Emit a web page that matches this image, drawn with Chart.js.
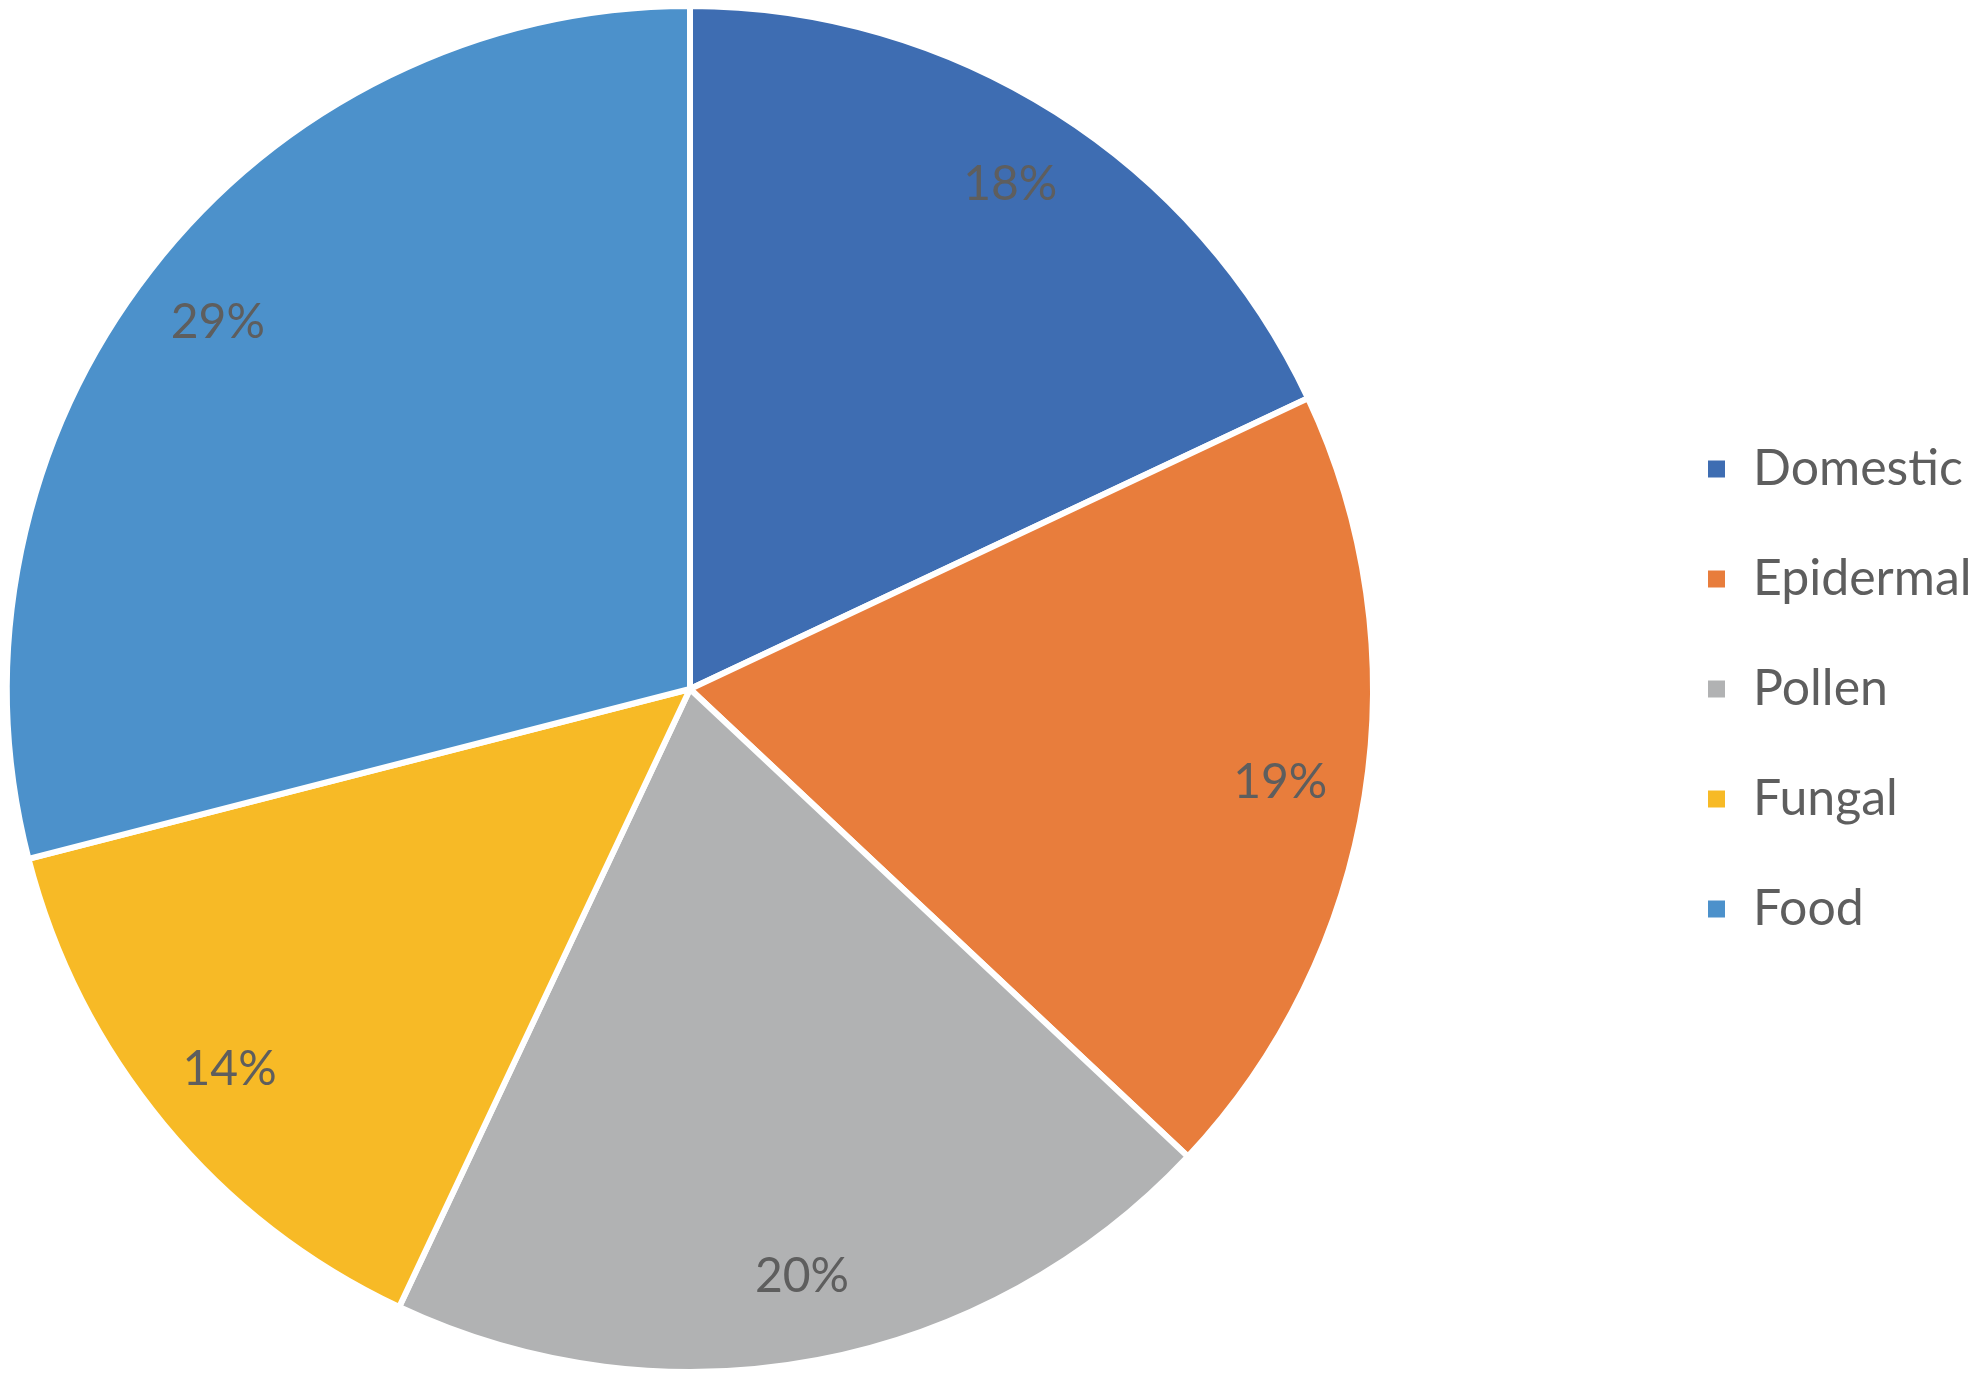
<!DOCTYPE html>
<html>
<head>
<meta charset="utf-8">
<script src="https://cdn.jsdelivr.net/npm/chart.js@4/dist/chart.umd.min.js"></script>
<style>
  html, body { margin: 0; padding: 0; background: #fff; overflow: hidden; }
  /* breiter als das Fenster, damit die Torte links sitzt */
  #wrap { width: 2253px; height: 1378px; margin-left: -265px; }
</style>
</head>
<body>
<div id="wrap"><canvas id="myChart"></canvas></div>
<script>
// Daten
const categories = ["Domestic", "Epidermal", "Pollen", "Fungal", "Food"];
const shares = [18, 19, 20, 14, 29];
const sliceColors = ['#3E6DB2', '#E87D3C', '#B1B2B3', '#F7BA26', '#4C91CB'];

// Prozentwerte in den Segmenten
const sliceLabels = {
  id: 'sliceLabels',
  afterDatasetsDraw(chart) {
    const c = chart.ctx;
    const meta = chart.getDatasetMeta(0);
    c.save();
    c.font = '48px Lato';
    c.fillStyle = '#5E5E5E';
    c.textAlign = 'center';
    c.textBaseline = 'middle';
    meta.data.forEach((arc, i) => {
      const p = arc.getProps(['x', 'y', 'startAngle', 'endAngle', 'outerRadius']);
      const mid = (p.startAngle + p.endAngle) / 2;
      const r = p.outerRadius * 0.875;
      c.fillText(shares[i] + '%', p.x + Math.cos(mid) * r, p.y + Math.sin(mid) * r);
    });
    c.restore();
  }
};

// Legende auf feste Breite bringen
const legendWidth = {
  id: 'legendWidth',
  beforeInit(chart) {
    const fit = chart.legend.fit;
    chart.legend.fit = function () {
      fit.bind(chart.legend)();
      this.width = 343;
    };
  }
};

const ctx = document.getElementById("myChart").getContext("2d");
const myChart = new Chart(ctx, {
  type: 'pie',
  data: {
    labels: categories,
    datasets: [{
      data: shares,
      backgroundColor: sliceColors,
      borderColor: '#ffffff',
      borderWidth: 6
    }]
  },
  options: {
    responsive: true,
    maintainAspectRatio: false,
    animation: false,
    layout: {
      padding: { left: 0, right: 0, top: 3, bottom: 3 }
    },
    plugins: {
      tooltip: { enabled: false },
      legend: {
        position: 'right',
        align: 'center',
        labels: {
          boxWidth: 23,
          boxHeight: 23,
          padding: 60,
          color: '#5E5E5E',
          font: { family: 'Lato', size: 50 }
        }
      }
    }
  },
  plugins: [sliceLabels, legendWidth]
});
</script>
</body>
</html>
